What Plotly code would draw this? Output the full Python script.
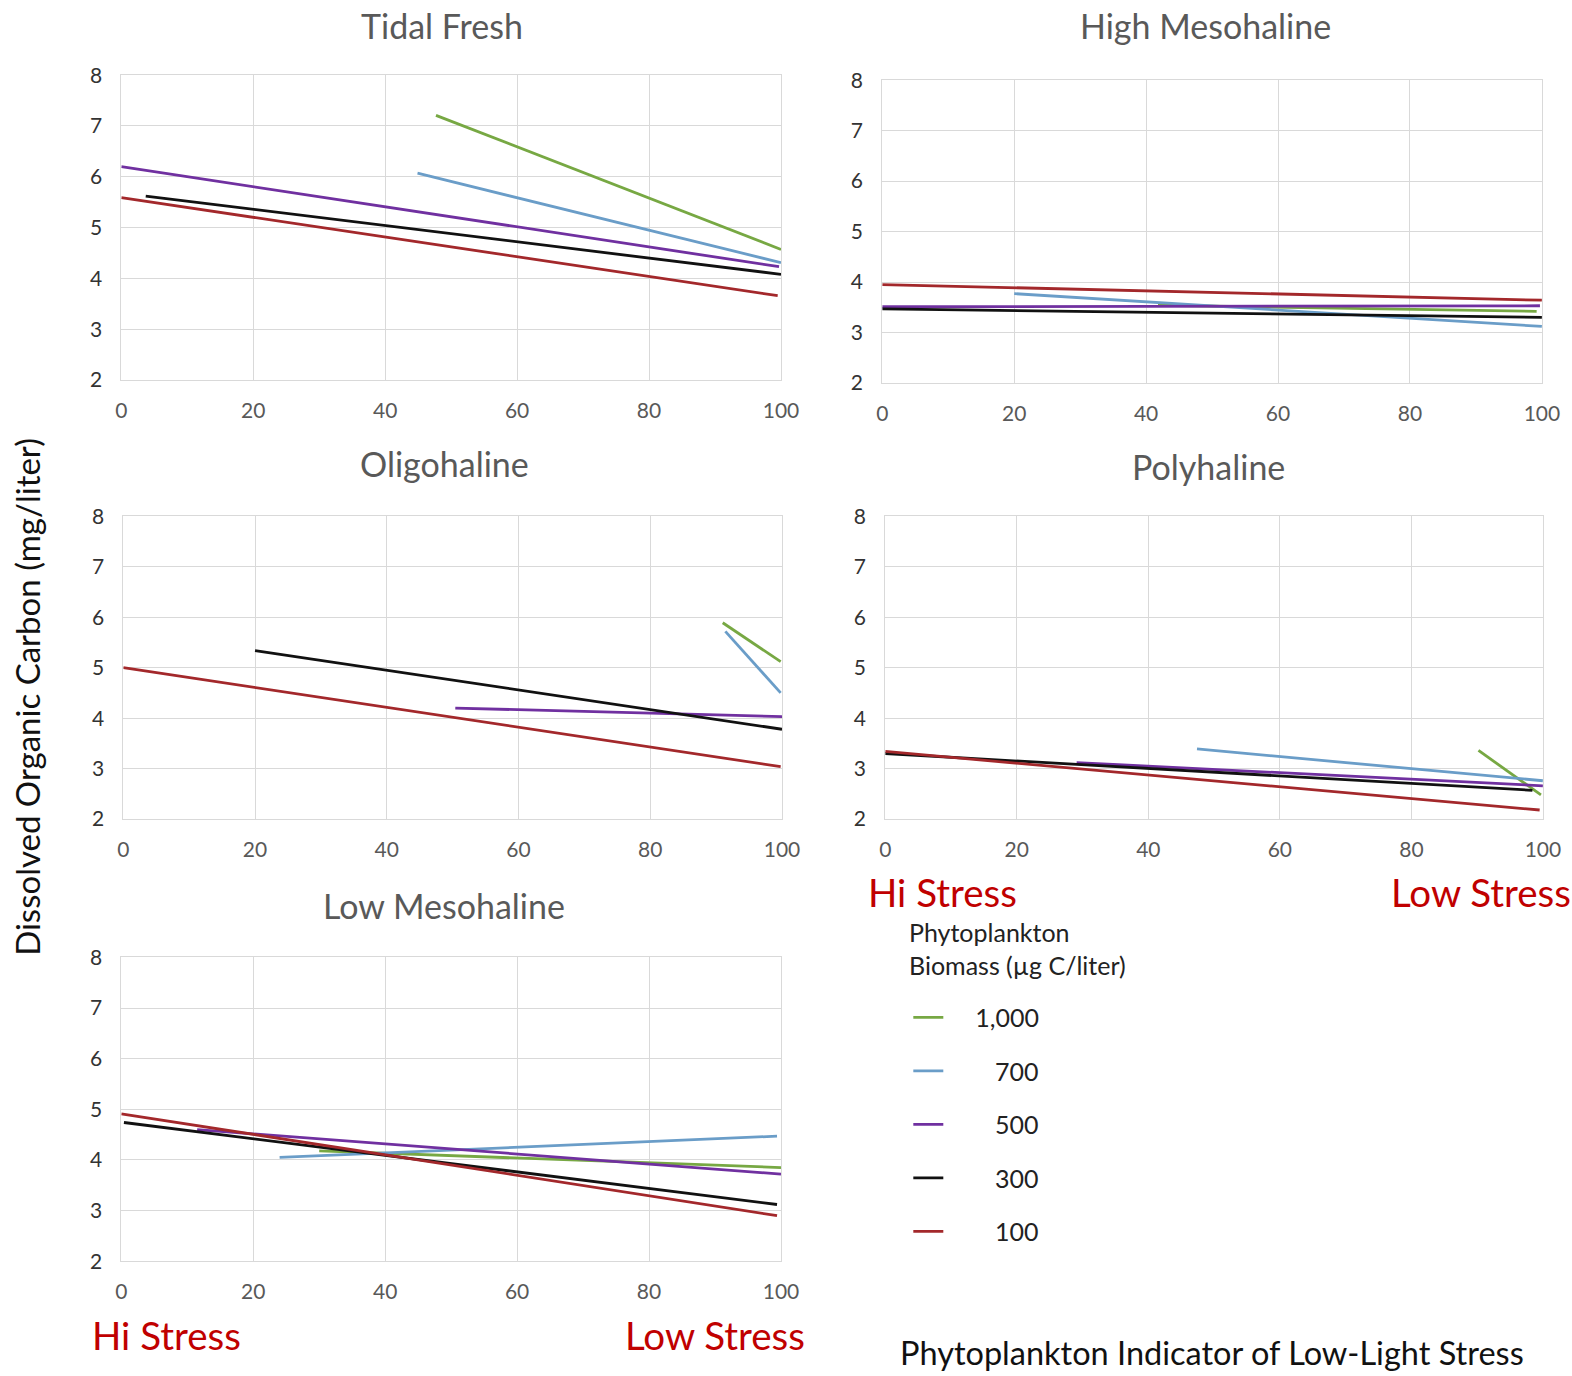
import plotly.graph_objects as go

W, H = 1572, 1376
S = 1572 / 1568  # measured positions were taken on a 1568-wide view

# ---------------- data ----------------
series_names = ["1,000", "700", "500", "300", "100"]
series_labels = ["\u2002\u20071,000", "\u2002\u2007\u2007\u2008700", "\u2002\u2007\u2007\u2008500",
                 "\u2002\u2007\u2007\u2008300", "\u2002\u2007\u2007\u2008100"]
series_colors = ["#77A843", "#6A9DC8", "#7030A0", "#111111", "#A3282B"]

panel_titles = ["Tidal Fresh", "High Mesohaline", "Oligohaline", "Polyhaline", "Low Mesohaline"]

# each series: [x_start, x_end] and [y_start, y_end]  (order: 1,000 / 700 / 500 / 300 / 100)
tidal_fresh_x = [[47.7, 100], [44.9, 100], [0, 99.7], [3.7, 100], [0, 99.5]]
tidal_fresh_y = [[7.21, 4.57], [6.07, 4.31], [6.20, 4.23], [5.62, 4.08], [5.59, 3.66]]

high_meso_x = [[41.8, 99.2], [20, 100], [0, 99.7], [0, 100], [0, 100]]
high_meso_y = [[3.54, 3.42], [3.77, 3.12], [3.51, 3.53], [3.47, 3.30], [3.95, 3.64]]

oligo_x = [[91, 99.8], [91.4, 99.8], [50.4, 100], [20, 100], [0, 99.8]]
oligo_y = [[5.89, 5.12], [5.72, 4.50], [4.20, 4.03], [5.34, 3.78], [5.00, 3.04]]

poly_x = [[90.2, 99.7], [47.4, 100], [29.1, 100], [0, 98.4], [0, 99.5]]
poly_y = [[3.36, 2.48], [3.39, 2.76], [3.12, 2.66], [3.30, 2.57], [3.34, 2.18]]

low_meso_x = [[30, 100], [24, 99.4], [11.5, 100], [0.4, 99.4], [0, 99.4]]
low_meso_y = [[4.18, 3.85], [4.05, 4.47], [4.60, 3.72], [4.74, 3.12], [4.91, 2.90]]

x_ticks = [0, 20, 40, 60, 80, 100]
y_ticks = [2, 3, 4, 5, 6, 7, 8]

panels_x = [tidal_fresh_x, high_meso_x, oligo_x, poly_x, low_meso_x]
panels_y = [tidal_fresh_y, high_meso_y, oligo_y, poly_y, low_meso_y]

# ---------------- layout (pixel boxes: left, right, top, bottom) ----------------
boxes = [
    (121, 779, 75, 379),
    (880, 1538, 80, 382),
    (123, 780, 515, 817),
    (883, 1539, 515, 817),
    (121, 779, 955, 1258),
]
title_pos = [(441, 25), (1202, 25), (443, 462), (1205, 465), (443, 903)]

def px(x):
    return x * S / W

def py(y):
    return 1 - y * S / H

fig = go.Figure()

gray = "#595959"
grid = "#D9D9D9"
FONT = "Lato, 'Open Sans', sans-serif"

layout_axes = {}
for i, (l, r, t, b) in enumerate(boxes):
    n = i + 1
    xa = "xaxis" if n == 1 else f"xaxis{n}"
    ya = "yaxis" if n == 1 else f"yaxis{n}"
    xref = "x" if n == 1 else f"x{n}"
    yref = "y" if n == 1 else f"y{n}"
    layout_axes[xa] = dict(
        domain=[px(l), px(r)], range=[0, 100], tickvals=x_ticks, anchor=yref,
        showgrid=True, gridcolor=grid, gridwidth=1, zeroline=False,
        showline=True, linecolor=grid, linewidth=1, mirror=True,
        ticks="outside", ticklen=12, tickcolor="rgba(0,0,0,0)", automargin=False,
        tickfont=dict(size=21, color=gray, family=FONT), fixedrange=True,
    )
    layout_axes[ya] = dict(
        domain=[py(b), py(t)], range=[2, 8], tickvals=y_ticks, anchor=xref,
        showgrid=True, gridcolor=grid, gridwidth=1, zeroline=False,
        showline=True, linecolor=grid, linewidth=1, mirror=True,
        ticks="outside", ticklen=14, tickcolor="rgba(0,0,0,0)", automargin=False,
        tickfont=dict(size=21, color="#333333", family=FONT), fixedrange=True,
    )
    for k in range(len(series_names)):
        fig.add_trace(go.Scatter(
            x=panels_x[i][k], y=panels_y[i][k], mode="lines",
            line=dict(color=series_colors[k], width=2.8),
            name=series_labels[k], legendgroup=series_names[k],
            showlegend=(i == 0), xaxis=xref, yaxis=yref, hoverinfo="skip",
        ))

annotations = []
for (tx, ty), txt in zip(title_pos, panel_titles):
    annotations.append(dict(text=txt, x=px(tx), y=py(ty), xref="paper", yref="paper",
                            showarrow=False, xanchor="center", yanchor="middle",
                            font=dict(size=34, color=gray, family=FONT)))

annotations.append(dict(text="Dissolved Organic Carbon (mg/liter)", x=px(27), y=py(695),
                        xref="paper", yref="paper", showarrow=False, textangle=-90,
                        xanchor="center", yanchor="middle",
                        font=dict(size=33, color="#111111", family=FONT)))

red = "#C00000"
for txt, x, y in [("Hi Stress", 940, 890), ("Low Stress", 1477, 890),
                  ("Hi Stress", 166, 1332), ("Low Stress", 713, 1332)]:
    annotations.append(dict(text=txt, x=px(x), y=py(y), xref="paper", yref="paper",
                            showarrow=False, xanchor="center", yanchor="middle",
                            font=dict(size=38.5, color=red, family=FONT)))

annotations.append(dict(text="Phytoplankton Indicator of Low-Light Stress", x=px(1209), y=py(1349),
                        xref="paper", yref="paper", showarrow=False,
                        xanchor="center", yanchor="middle",
                        font=dict(size=32.5, color="#111111", family=FONT)))

# legend heading
annotations.append(dict(text="Phytoplankton<br>Biomass (\u00b5g C/liter)", x=px(905), y=py(946),
                        xref="paper", yref="paper", showarrow=False, align="left",
                        xanchor="left", yanchor="middle",
                        font=dict(size=25, color="#222222", family=FONT)))

fig.update_layout(
    width=W, height=H, margin=dict(l=0, r=0, t=0, b=0),
    paper_bgcolor="white", plot_bgcolor="white",
    annotations=annotations,
    showlegend=True,
    legend=dict(
        x=px(906), y=py(992), xanchor="left", yanchor="top",
        font=dict(size=25, color="#222222", family=FONT),
        tracegroupgap=18, bgcolor="rgba(0,0,0,0)", itemwidth=30,
    ),
    **layout_axes,
)

fig.write_html("out.html")
